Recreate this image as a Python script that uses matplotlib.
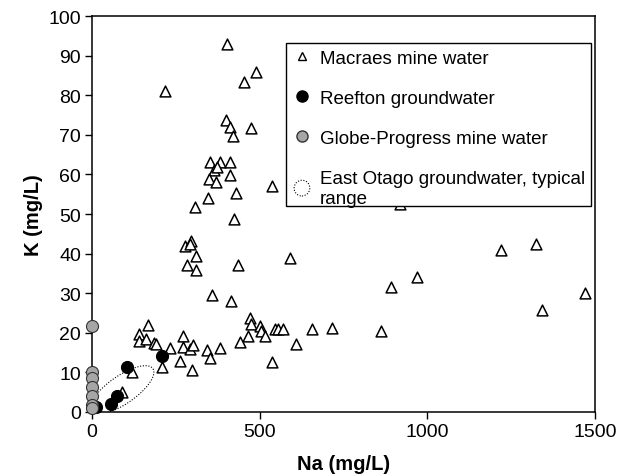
import numpy as np
import matplotlib
matplotlib.use("Agg")
import matplotlib.pyplot as plt
from matplotlib.lines import Line2D
from matplotlib.legend_handler import HandlerPatch
from matplotlib.patches import Ellipse, Rectangle

plt.rcParams['font.family'] = ['Liberation Sans', 'DejaVu Sans']

# Macraes mine water
macraes_na = [402, 219, 454, 488, 401, 413, 474, 421, 351, 381, 411, 363, 373, 348, 369,
              411, 537, 345, 428, 306, 422, 277, 294, 291, 311, 590, 282, 311, 434, 358,
              414, 470, 475, 500, 504, 517, 546, 554, 570, 657, 464, 441, 607, 537, 166,
              140, 139, 162, 186, 190, 232, 272, 271, 292, 301, 342, 351, 381, 262, 297,
              209, 118, 88, 891, 968, 716, 862, 1220, 1323, 1470, 1343, 918]
macraes_k = [93.0, 81.0, 83.3, 85.8, 73.7, 71.9, 71.6, 69.6, 63.2, 63.2, 63.2, 61.2, 61.9, 58.8, 58.0,
             59.9, 57.1, 54.0, 55.2, 51.7, 48.7, 42.0, 43.1, 42.4, 39.5, 39.0, 37.2, 35.8, 37.2, 29.6,
             28.0, 23.8, 22.1, 21.8, 20.4, 19.2, 21.0, 21.0, 21.0, 21.0, 19.3, 17.7, 17.2, 12.7, 22.0,
             19.6, 17.9, 18.4, 17.3, 17.1, 16.2, 19.3, 16.5, 15.8, 16.8, 15.6, 13.6, 16.1, 12.9, 10.6,
             11.4, 10.0, 5.0, 31.5, 34.0, 21.2, 20.4, 41.0, 42.3, 30.0, 25.8, 52.6]

# Reefton groundwater
reefton_na = [13, 58, 75, 104, 210]
reefton_k = [1.2, 2.0, 4.1, 11.3, 14.2]

# Globe-Progress mine water
globe_na = [0, 0, 0, 0, 0, 0, 0]
globe_k = [21.8, 10.0, 8.5, 6.2, 4.1, 1.8, 1.0]

# East Otago groundwater typical range (ellipse: centre, major & minor half-axis vectors in data units)
otago_centre = (90, 5.6)
otago_major = (92, 5.3)
otago_minor = (22, -3.0)

x_ticks = [0, 500, 1000, 1500]
y_ticks = [0, 10, 20, 30, 40, 50, 60, 70, 80, 90, 100]

legend_labels = ['Macraes mine water', 'Reefton groundwater', 'Globe-Progress mine water',
                 'East Otago groundwater, typical\nrange']

fig = plt.figure(figsize=(6.29, 4.77), dpi=100)
ax = fig.add_axes([92 / 629, 1 - 413 / 477, (595 - 92) / 629, (413 - 17) / 477])

ax.scatter(macraes_na, macraes_k, marker='^', s=60, facecolors='white', edgecolors='black',
           linewidths=1.1, zorder=3, clip_on=False)
ax.scatter(reefton_na, reefton_k, marker='o', s=75, facecolors='black', edgecolors='black',
           linewidths=0.8, zorder=4, clip_on=False)
ax.scatter(globe_na, globe_k, marker='o', s=75, facecolors='#a6a6a6', edgecolors='#333333',
           linewidths=0.8, zorder=5, clip_on=False)

t = np.linspace(0, 2 * np.pi, 200)
ex = otago_centre[0] + otago_major[0] * np.cos(t) + otago_minor[0] * np.sin(t)
ey = otago_centre[1] + otago_major[1] * np.cos(t) + otago_minor[1] * np.sin(t)
ax.plot(ex, ey, color='black', linestyle=(0, (1, 1.5)), linewidth=0.8, zorder=2)

ax.set_xlim(0, 1500)
ax.set_ylim(0, 100)
ax.set_xticks(x_ticks)
ax.set_yticks(y_ticks)
ax.tick_params(direction='out', length=5, width=1, labelsize=14, colors='black', pad=3)
for sp in ax.spines.values():
    sp.set_linewidth(1.1)
    sp.set_color('black')

ax.set_xlabel('Na (mg/L)', fontsize=14.5, fontweight='bold', labelpad=10)
ax.set_ylabel('K (mg/L)', fontsize=14.5, fontweight='bold', labelpad=4)


class HandlerEllipse(HandlerPatch):
    def create_artists(self, legend, orig_handle, xdescent, ydescent, width, height, fontsize, trans):
        center = 0.5 * width - 0.5 * xdescent, 0.5 * height - 0.5 * ydescent
        p = Ellipse(xy=center, width=height * 1.2, height=height * 1.2)
        self.update_prop(p, orig_handle, legend)
        p.set_transform(trans)
        return [p]


h1 = Line2D([], [], marker='^', linestyle='none', markerfacecolor='white', markeredgecolor='black',
            markersize=6, markeredgewidth=1)
h2 = Line2D([], [], marker='o', linestyle='none', markerfacecolor='black', markeredgecolor='black',
            markersize=8)
h3 = Line2D([], [], marker='o', linestyle='none', markerfacecolor='#a6a6a6', markeredgecolor='#333333',
            markersize=8)
h4 = Ellipse((0, 0), 1, 1, facecolor='none', edgecolor='black', linestyle=(0, (1, 1.5)), linewidth=0.8)

# legend frame drawn as a box in axes coordinates
lx0, lx1 = (286 - 92) / 503, (591 - 92) / 503
ly0, ly1 = (413 - 207) / 396, (413 - 44) / 396
box = Rectangle((lx0, ly0), lx1 - lx0, ly1 - ly0, transform=ax.transAxes, facecolor='white',
                edgecolor='black', linewidth=1.0, zorder=9, clip_on=False)
ax.add_patch(box)

leg = ax.legend([h1, h2, h3, h4], legend_labels,
                handler_map={Ellipse: HandlerEllipse()},
                loc='upper left', bbox_to_anchor=(lx0, ly1),
                frameon=False, fontsize=13.5, handlelength=1.0, handletextpad=0.45,
                labelspacing=1.22, borderpad=0.35, borderaxespad=0)
for txt in leg.get_texts():
    txt.set_linespacing(1.25)
leg.set_zorder(10)

fig.savefig('out.png', dpi=100)
